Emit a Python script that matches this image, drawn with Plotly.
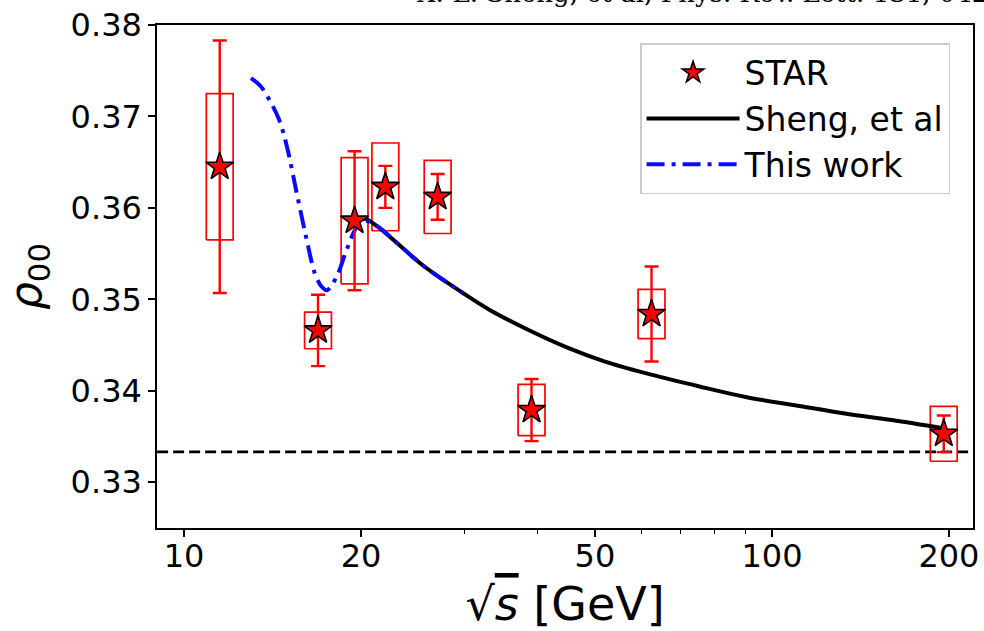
import plotly.graph_objects as go

# ---- data ----
energy = [11.5, 16.9, 19.5, 22.0, 27.0, 39.0, 62.4, 196.0]
rho00 = [0.3645, 0.3466, 0.3586, 0.3623, 0.3612, 0.3379, 0.3484, 0.3353]
stat_err = [0.0138, 0.0039, 0.0076, 0.0023, 0.0025, 0.0034, 0.0052, 0.0020]
sys_err = [0.0080, 0.0020, 0.0069, 0.0048, 0.0040, 0.0028, 0.0027, 0.0030]

sheng_x = [19.6, 20.3, 21.3, 23.0, 25.5, 29.8, 33.0, 38.7, 45.0, 52.0, 61.2,
           75.0, 90.6, 110.0, 133.9, 160.0, 195.4]
sheng_y = [0.3585, 0.3588, 0.3580, 0.3562, 0.3537, 0.3507, 0.3489, 0.3466,
           0.3447, 0.3432, 0.3419, 0.3405, 0.3393, 0.3384, 0.3375, 0.3368, 0.3359]

work_x = [13.0, 13.5, 14.0, 14.5, 14.95, 15.55, 16.17, 16.7, 17.14, 17.5,
          18.18, 18.9, 19.66, 20.2, 21.3, 23.0, 25.5, 29.8]
work_y = [0.3742, 0.3733, 0.3717, 0.3697, 0.3668, 0.3616, 0.3565, 0.3528,
          0.3514, 0.3510, 0.3525, 0.3554, 0.3579, 0.3586, 0.3580, 0.3562,
          0.3537, 0.3507]

baseline = 1.0 / 3.0
x_ticks = [10, 20, 50, 100, 200]
x_minor = [30, 40, 60, 70, 80, 90]
y_ticks = [0.33, 0.34, 0.35, 0.36, 0.37, 0.38]

# ---- style ----
BOX_F = 1.054  # half-width of systematic boxes (multiplicative, log axis)
FONT = "DejaVu Sans"
TICK_SIZE = 32

# systematic boxes built from the data
bx, by = [], []
for x, y, s in zip(energy, rho00, sys_err):
    bx += [x / BOX_F, x * BOX_F, x * BOX_F, x / BOX_F, x / BOX_F, None]
    by += [y - s, y - s, y + s, y + s, y - s, None]

fig = go.Figure()

fig.add_trace(go.Scatter(x=[9, 220], y=[baseline, baseline], mode="lines",
                         line=dict(color="black", width=2.8, dash="11px,5px"),
                         showlegend=False, hoverinfo="skip"))

fig.add_trace(go.Scatter(x=bx, y=by, mode="lines",
                         line=dict(color="red", width=1.7),
                         showlegend=False, hoverinfo="skip"))

fig.add_trace(go.Scatter(x=sheng_x, y=sheng_y, mode="lines", name="Sheng, et al",
                         line=dict(color="black", width=4, shape="spline"),
                         legendgroup="b", legendrank=2))

fig.add_trace(go.Scatter(x=work_x, y=work_y, mode="lines", name="This work",
                         line=dict(color="#0a0aff", width=4, dash="18px,7px,4px,7px",
                                   shape="spline"),
                         legendgroup="c", legendrank=3))

fig.add_trace(go.Scatter(x=energy, y=rho00, mode="markers", name="STAR",
                         marker=dict(symbol="star", size=21, color="red",
                                     line=dict(color="black", width=1.6)),
                         error_y=dict(type="data", array=stat_err, visible=True,
                                      color="red", thickness=2.4, width=7),
                         legendgroup="a", legendrank=1))

fig.add_annotation(text="X.-L. Sheng, et al, Phys. Rev. Lett. 131, 042304 (2023)",
                   xref="paper", yref="paper", x=0.316, y=1.0,
                   xanchor="left", yanchor="bottom", yshift=15, showarrow=False,
                   font=dict(family="DejaVu Serif", size=26, color="black"))

fig.update_layout(
    width=984, height=631,
    margin=dict(l=157, r=11, t=25, b=103, autoexpand=False),
    paper_bgcolor="white", plot_bgcolor="white",
    font=dict(family=FONT, size=TICK_SIZE, color="black"),
    legend=dict(x=0.592, y=0.964, xanchor="left", yanchor="top",
                bgcolor="white", bordercolor="#cccccc", borderwidth=1.5,
                font=dict(family=FONT, size=33), traceorder="grouped",
                tracegroupgap=0, itemwidth=93),
    xaxis=dict(type="log", range=[0.954, 2.342], automargin=False,
               tickvals=x_ticks, ticktext=[str(v) for v in x_ticks],
               ticks="outside", ticklen=7, tickwidth=1.5, tickcolor="black",
               ticklabelstandoff=-8,
               showline=True, linecolor="black", linewidth=1.5, mirror=True,
               showgrid=False, zeroline=False,
               tickfont=dict(family=FONT, size=TICK_SIZE),
               minor=dict(tickvals=x_minor, ticks="outside", ticklen=4,
                          tickwidth=1.2, tickcolor="black", showgrid=False),
               title=dict(text="√<span style=\"text-decoration:overline\"><i>s</i></span> [GeV]",
                          font=dict(family=FONT, size=46))),
    yaxis=dict(range=[0.325, 0.38], tickvals=y_ticks, automargin=False,
               ticktext=[f"{v:.2f}" for v in y_ticks],
               ticks="outside", ticklen=7, tickwidth=1.5, tickcolor="black",
               showline=True, linecolor="black", linewidth=1.5, mirror=True,
               showgrid=False, zeroline=False,
               tickfont=dict(family=FONT, size=TICK_SIZE),
               title=dict(text="<i>ρ</i><sub>00</sub>",
                          font=dict(family=FONT, size=44))),
)

fig.write_html("out.html", config={"displayModeBar": False},
               post_script="document.body.style.margin='0';document.body.style.padding='0';")
